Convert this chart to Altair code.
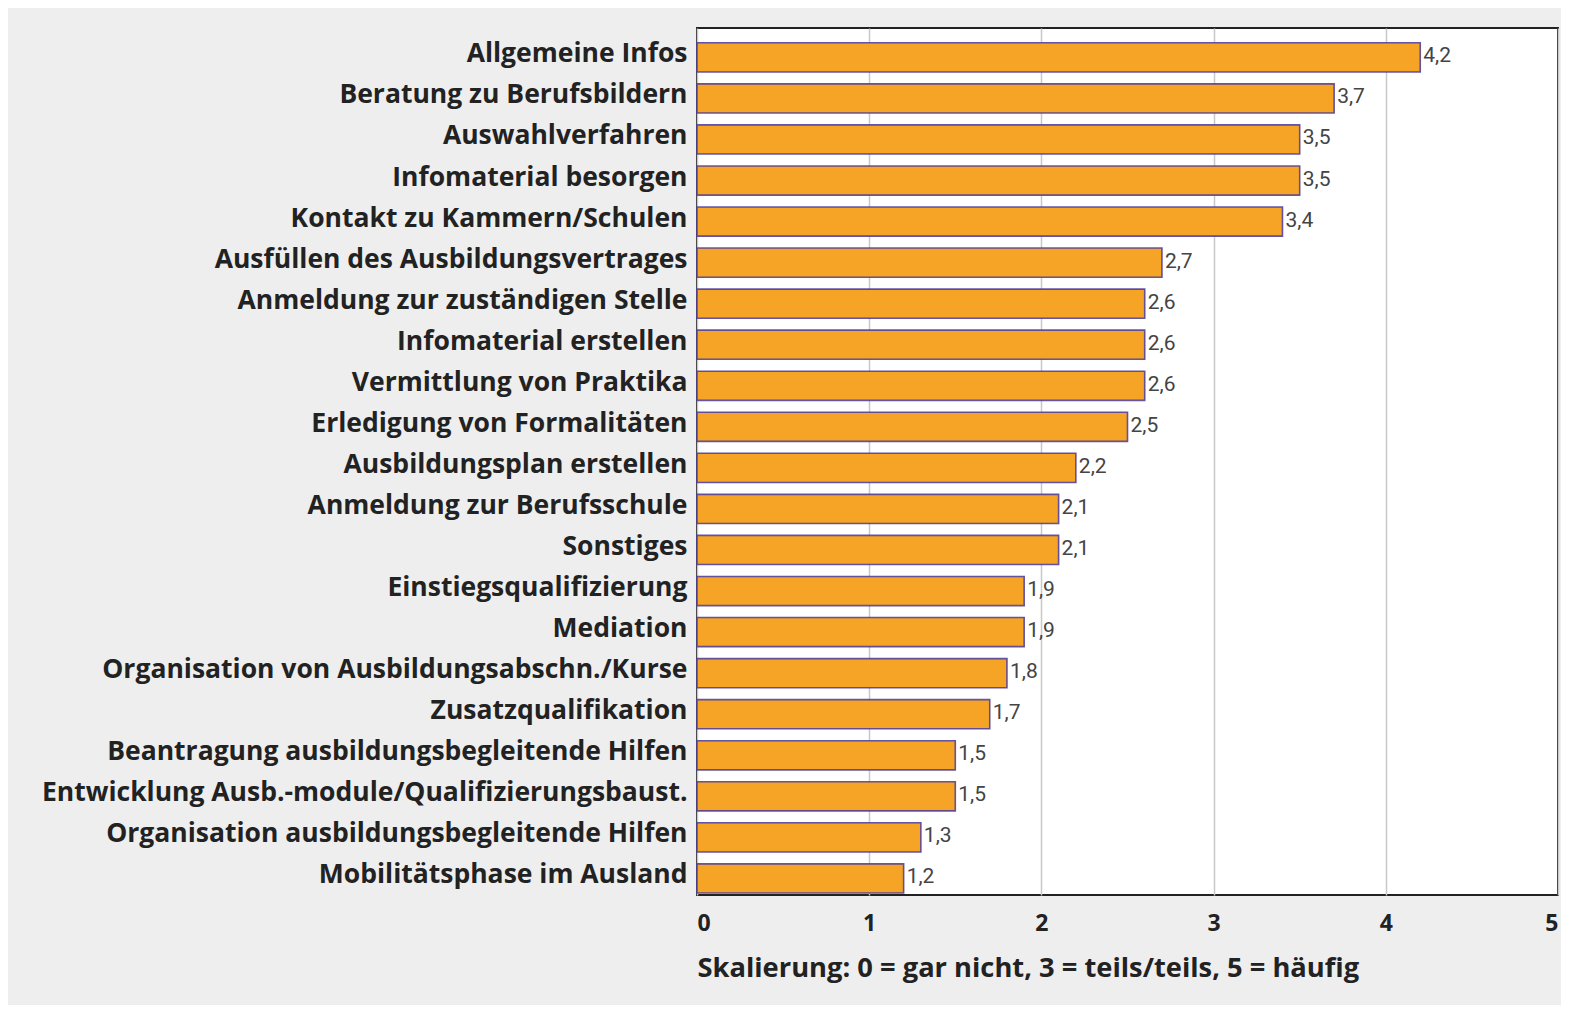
import altair as alt
import pandas as pd

categories = [
    "Allgemeine Infos",
    "Beratung zu Berufsbildern",
    "Auswahlverfahren",
    "Infomaterial besorgen",
    "Kontakt zu Kammern/Schulen",
    "Ausfüllen des Ausbildungsvertrages",
    "Anmeldung zur zuständigen Stelle",
    "Infomaterial erstellen",
    "Vermittlung von Praktika",
    "Erledigung von Formalitäten",
    "Ausbildungsplan erstellen",
    "Anmeldung zur Berufsschule",
    "Sonstiges",
    "Einstiegsqualifizierung",
    "Mediation",
    "Organisation von Ausbildungsabschn./Kurse",
    "Zusatzqualifikation",
    "Beantragung ausbildungsbegleitende Hilfen",
    "Entwicklung Ausb.-module/Qualifizierungsbaust.",
    "Organisation ausbildungsbegleitende Hilfen",
    "Mobilitätsphase im Ausland",
]
values = [4.2, 3.7, 3.5, 3.5, 3.4, 2.7, 2.6, 2.6, 2.6, 2.5, 2.2, 2.1, 2.1,
          1.9, 1.9, 1.8, 1.7, 1.5, 1.5, 1.3, 1.2]
x_ticks = [0, 1, 2, 3, 4, 5]

df = pd.DataFrame({
    "cat": categories,
    "val": values,
    "lbl": [f"{v:.1f}".replace(".", ",") for v in values],
})

y_enc = alt.Y(
    "cat:N", sort=categories, title=None,
    scale=alt.Scale(paddingInner=0.29, paddingOuter=0.205, align=0.88),
    axis=alt.Axis(
        labelFont="Open Sans", labelFontWeight="bold", labelFontSize=26.5,
        labelColor="#222222", labelPadding=10, ticks=False, domain=False,
        labelOffset=-3, labelLimit=900,
    ),
)
x_scale = alt.Scale(domain=[0, 5], nice=False)

base = alt.Chart(df)

bars = base.mark_bar(
    color="#F5A425", stroke="#4a3a9c", strokeWidth=1.6, strokeOpacity=0.85,
).encode(
    x=alt.X(
        "val:Q", scale=x_scale,
        title="Skalierung: 0 = gar nicht, 3 = teils/teils, 5 = häufig",
        axis=alt.Axis(
            values=x_ticks, format="d", labelFlush=True,
            labelFont="Open Sans", labelFontWeight="bold", labelFontSize=23,
            labelColor="#222222", labelPadding=17, ticks=False, domain=False,
            grid=True, gridColor="#c8c8c8", gridWidth=1.5,
            titleFont="Open Sans", titleFontWeight="bold", titleFontSize=27.3,
            titleColor="#222222", titleAnchor="start", titleAlign="left",
            titlePadding=19,
        ),
    ),
    y=y_enc,
)

texts = base.mark_text(
    align="left", baseline="middle", dx=3, dy=-1,
    font="Roboto", fontSize=21, color="#444444",
).encode(
    x=alt.X("val:Q", scale=x_scale),
    y=alt.Y("cat:N", sort=categories),
    text="lbl:N",
)

chart = (
    alt.layer(bars, texts)
    .properties(
        width=861, height=867,
        autosize=alt.AutoSizeParams(type="none"),
        padding={"left": 689, "top": 20, "right": 3, "bottom": 110},
        background="#eeeeee",
    )
    .configure_view(stroke="#222222", strokeWidth=2, fill="white")
)

chart.save("out.html", embed_options={"renderer": "svg", "actions": False})
